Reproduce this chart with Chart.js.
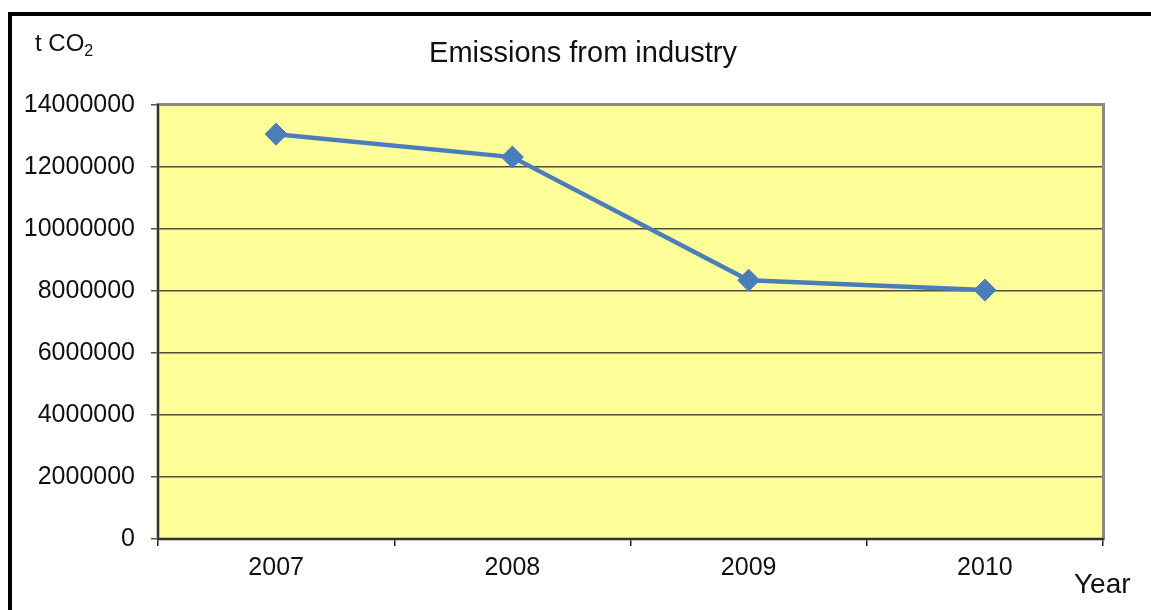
<!DOCTYPE html>
<html>
<head>
<meta charset="utf-8">
<script src="https://cdn.jsdelivr.net/npm/chart.js@4"></script>
<style>
  html, body { margin: 0; padding: 0; background: #fff; }
  body { width: 1151px; height: 610px; position: relative; overflow: hidden; font-family: "Liberation Sans", Arial, sans-serif; color: #111; }
  #frame { position: absolute; left: 8px; top: 12px; width: 1200px; height: 700px; border-left: 4px solid #000; border-top: 4px solid #000; box-sizing: border-box; }
  #wrap { position: absolute; left: 0; top: 0; width: 1151px; height: 610px; }
  .lbl { position: absolute; white-space: nowrap; line-height: normal; }
  #title { left: 0; width: 1166px; text-align: center; top: 36px; font-size: 29px; }
  #unit { left: 35px; top: 29px; font-size: 24px; }
  #unit sub { font-size: 16px; vertical-align: -5px; }
  #xname { left: 1074px; top: 568px; font-size: 28px; }
</style>
</head>
<body>
<div id="frame"></div>
<div id="wrap"><canvas id="c" width="1151" height="610"></canvas></div>
<div class="lbl" id="title">Emissions from industry</div>
<div class="lbl" id="unit">t CO<sub>2</sub></div>
<div class="lbl" id="xname">Year</div>
<script>
const years = ['2007', '2008', '2009', '2010'];
const emissions = [13060000, 12320000, 8350000, 8030000];
const yMin = 0;
const yMax = 14000000;
const yStep = 2000000;

const plotBg = {
  id: 'plotBg',
  beforeDraw(chart) {
    const a = chart.chartArea, ctx = chart.ctx;
    ctx.save();
    ctx.fillStyle = '#FFFF99';
    ctx.fillRect(a.left, a.top, a.right - a.left, a.bottom - a.top);
    ctx.restore();
  },
  beforeDatasetsDraw(chart) {
    const a = chart.chartArea, ctx = chart.ctx;
    ctx.save();
    ctx.strokeStyle = '#8a8a8a';
    ctx.lineWidth = 3;
    ctx.strokeRect(a.left, a.top - 0.5, a.right - a.left + 0.5, a.bottom - a.top + 0.5);
    ctx.strokeStyle = '#333';
    ctx.lineWidth = 2;
    ctx.beginPath();
    ctx.moveTo(a.left, a.top - 1);
    ctx.lineTo(a.left, a.bottom);
    ctx.lineTo(a.right + 1, a.bottom);
    ctx.stroke();
    ctx.restore();
  }
};

new Chart(document.getElementById('c'), {
  type: 'line',
  data: {
    labels: years,
    datasets: [{
      data: emissions,
      borderColor: '#4A7EBB',
      backgroundColor: '#4A7EBB',
      borderWidth: 4.5,
      pointStyle: 'rectRot',
      pointRadius: 11,
      pointBorderWidth: 1,
      pointBorderColor: '#4A7EBB',
      pointBackgroundColor: '#4A7EBB',
      tension: 0
    }]
  },
  options: {
    responsive: false,
    animation: false,
    layout: { padding: { top: 105, right: 48, left: 0, bottom: 0 } },
    plugins: { legend: { display: false }, title: { display: false }, tooltip: { enabled: false } },
    scales: {
      x: {
        offset: true,
        grid: { offset: true, drawOnChartArea: false, drawTicks: true, tickLength: 7, color: '#222', lineWidth: 1.5 },
        border: { display: false },
        ticks: { color: '#111', font: { family: '"Liberation Sans", Arial, sans-serif', size: 25 }, padding: 7, maxRotation: 0 },
        afterFit(scale) { scale.height = 71; }
      },
      y: {
        min: yMin,
        max: yMax,
        grid: { color: 'rgba(50,50,30,0.85)', lineWidth: 1.5, drawTicks: true, tickLength: 7 },
        border: { display: false },
        ticks: {
          stepSize: yStep,
          color: '#111',
          font: { family: '"Liberation Sans", Arial, sans-serif', size: 25 },
          padding: 16,
          callback: v => String(v)
        },
        afterFit(scale) { scale.width = 158; }
      }
    }
  },
  plugins: [plotBg]
});
</script>
</body>
</html>
